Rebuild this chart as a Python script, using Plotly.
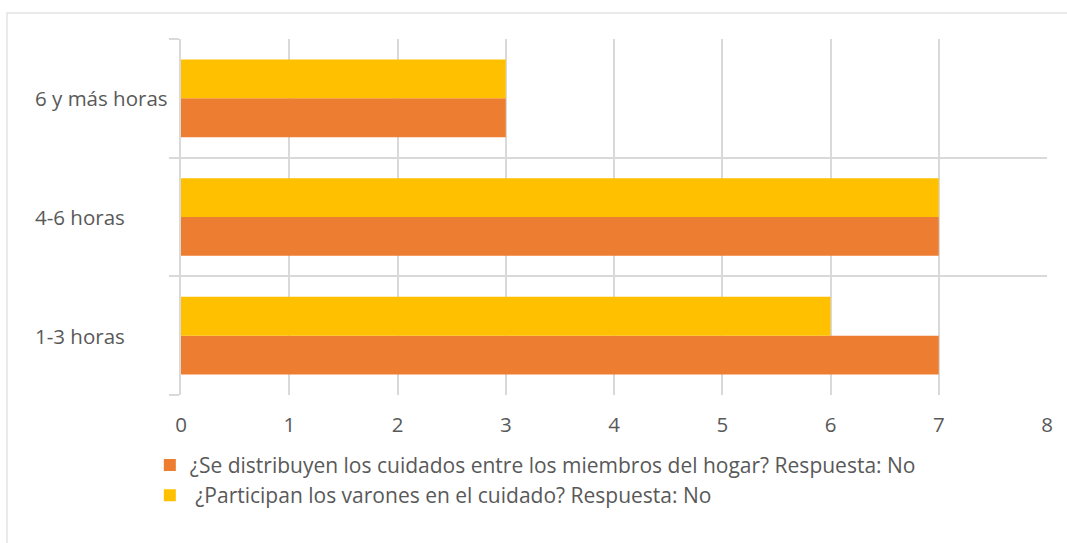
import plotly.graph_objects as go

categories = ["1-3 horas", "4-6 horas", "6 y más horas"]
distribuyen_no = [7, 7, 3]
varones_no = [6, 7, 3]
x_ticks = [0, 1, 2, 3, 4, 5, 6, 7, 8]

name_a = "¿Se distribuyen los cuidados entre los miembros del hogar? Respuesta: No"
name_b = " ¿Participan los varones en el cuidado? Respuesta: No"

FONT = "Open Sans"
FS = 20.5
TXT = "#595959"
GRID = "#d9d9d9"

fig = go.Figure()
fig.add_trace(go.Bar(y=categories, x=distribuyen_no, orientation="h", name=name_a,
                     marker=dict(color="#ED7D31", line=dict(width=0))))
fig.add_trace(go.Bar(y=categories, x=varones_no, orientation="h", name=name_b,
                     marker=dict(color="#FFC000", line=dict(width=0))))

annotations = [dict(text=c, xref="paper", yref="y", x=(33 - 181) / 866, y=c,
                    xanchor="left", yanchor="middle", showarrow=False,
                    font=dict(family=FONT, size=FS, color=TXT))
               for c in categories]

fig.update_layout(
    width=1067, height=543,
    margin=dict(l=181, r=20, t=39, b=148),
    barmode="group", bargap=0.345, bargroupgap=0,
    paper_bgcolor="white", plot_bgcolor="white",
    font=dict(family=FONT, size=FS, color=TXT),
    showlegend=True,
    legend=dict(x=-0.036, y=-0.14, xanchor="left", yanchor="top",
                traceorder="normal", font=dict(size=21, color=TXT),
                bgcolor="rgba(0,0,0,0)", tracegroupgap=0),
    xaxis=dict(range=[0, 8], tickvals=x_ticks, showgrid=True, gridcolor=GRID,
               gridwidth=1.5, zeroline=False, showline=False, ticks="",
               ticklabelstandoff=15, tickfont=dict(size=FS, color=TXT)),
    yaxis=dict(type="category", categoryorder="array", categoryarray=categories,
               tickson="boundaries", ticks="outside", ticklen=10, tickcolor=GRID,
               tickwidth=1.5, showgrid=True, gridcolor=GRID, gridwidth=1.5,
               showline=True, linecolor=GRID, linewidth=1.5, zeroline=False,
               showticklabels=False),
    annotations=annotations,
    shapes=[dict(type="rect", xref="paper", yref="paper",
                 x0=(7 - 181) / 866, x1=1.1, y0=-0.6, y1=(395 - 13) / 356,
                 line=dict(color="#e3e3e3", width=1.5), fillcolor="rgba(0,0,0,0)",
                 layer="below")],
)

fig.write_html("out.html")
